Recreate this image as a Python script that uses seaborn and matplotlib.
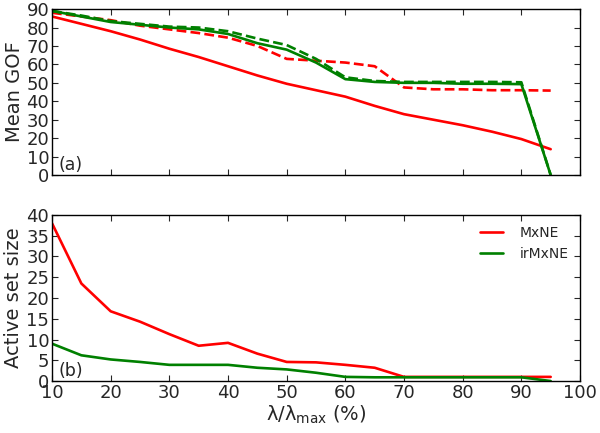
import numpy as np
import pandas as pd
import matplotlib
matplotlib.use('Agg')
import matplotlib.pyplot as plt
import seaborn as sns

# 数据
lam = [10, 15, 20, 25, 30, 35, 40, 45, 50, 55, 60, 65, 70, 75, 80, 85, 90, 95]

gof_mxne = [86, 82, 78, 73.5, 68.5, 64, 59, 54, 49.5, 46, 42.5, 37.5, 33, 30, 27, 23.5, 19.5, 14]
gof_mxne_dash = [88, 86, 84, 81, 79, 77, 74.5, 70, 63, 62, 61, 59, 47.5, 46.5, 46.5, 46, 46, 45.8]
gof_ir = [89, 86, 83, 81.5, 80, 79, 76.5, 71.5, 68, 61, 52, 50.5, 50, 50, 49.5, 49.5, 49.3, 0]
gof_ir_dash = [89, 86.5, 83.5, 82, 80.5, 80, 78, 74, 70.5, 63, 53, 51, 50.5, 50.5, 50.5, 50.5, 50.3, 0]

size_mxne = [38, 23.5, 16.8, 14.3, 11.3, 8.5, 9.2, 6.6, 4.6, 4.5, 3.9, 3.2, 1.0, 1.0, 1.0, 1.0, 1.0, 1.0]
size_ir = [9.0, 6.2, 5.2, 4.6, 3.9, 3.9, 3.9, 3.2, 2.8, 2.0, 1.0, 0.9, 0.9, 0.9, 0.9, 0.9, 0.9, 0.0]

xticks = [10, 20, 30, 40, 50, 60, 70, 80, 90, 100]

sns.set_style('ticks')
plt.rcParams['font.family'] = ['DejaVu Sans']

fig = plt.figure(figsize=(6, 4.33), dpi=100)
ax1 = fig.add_axes([0.0867, 0.5958, 0.88, 0.3832])
ax2 = fig.add_axes([0.0867, 0.12, 0.88, 0.3835])

red = '#ff0000'
green = '#008000'
lw = 1.9

# (a) GOF
sns.lineplot(x=lam, y=gof_mxne, color=red, lw=lw, ax=ax1)
sns.lineplot(x=lam, y=gof_mxne_dash, color=red, lw=lw, ls='--', ax=ax1)
sns.lineplot(x=lam, y=gof_ir_dash, color=green, lw=lw, ls='--', ax=ax1)
sns.lineplot(x=lam, y=gof_ir, color=green, lw=lw, ax=ax1)
ax1.set_ylim(0, 90)
ax1.set_yticks(range(0, 91, 10))
ax1.set_ylabel('Mean GOF', fontsize=14, labelpad=2)
ax1.set_xticklabels([])
ax1.text(0.012, 0.03, '(a)', transform=ax1.transAxes, fontsize=12.5)

# (b) active set size
sns.lineplot(x=lam, y=size_mxne, color=red, lw=lw, ax=ax2, label='MxNE')
sns.lineplot(x=lam, y=size_ir, color=green, lw=lw, ax=ax2, label='irMxNE')
ax2.set_ylim(0, 40)
ax2.set_yticks(range(0, 41, 5))
ax2.set_ylabel('Active set size', fontsize=14, labelpad=2)
ax2.set_xlabel(r'$\mathregular{\lambda/\lambda_{max}}$ (%)', fontsize=14, labelpad=1)
ax2.text(0.012, 0.03, '(b)', transform=ax2.transAxes, fontsize=12.5)
ax2.legend(loc='upper right', frameon=False, fontsize=10, handlelength=1.7,
           handletextpad=1.2, borderaxespad=0.4)

for ax in (ax1, ax2):
    ax.set_xlim(10, 100)
    ax.set_xticks(xticks)
    ax.tick_params(direction='in', top=True, right=True, length=4, width=0.8,
                   labelsize=13, pad=2)
    for s in ax.spines.values():
        s.set_color('black')
        s.set_linewidth(1.0)
ax2.set_xticklabels([str(t) for t in xticks])

fig.savefig('out.png', dpi=100)
